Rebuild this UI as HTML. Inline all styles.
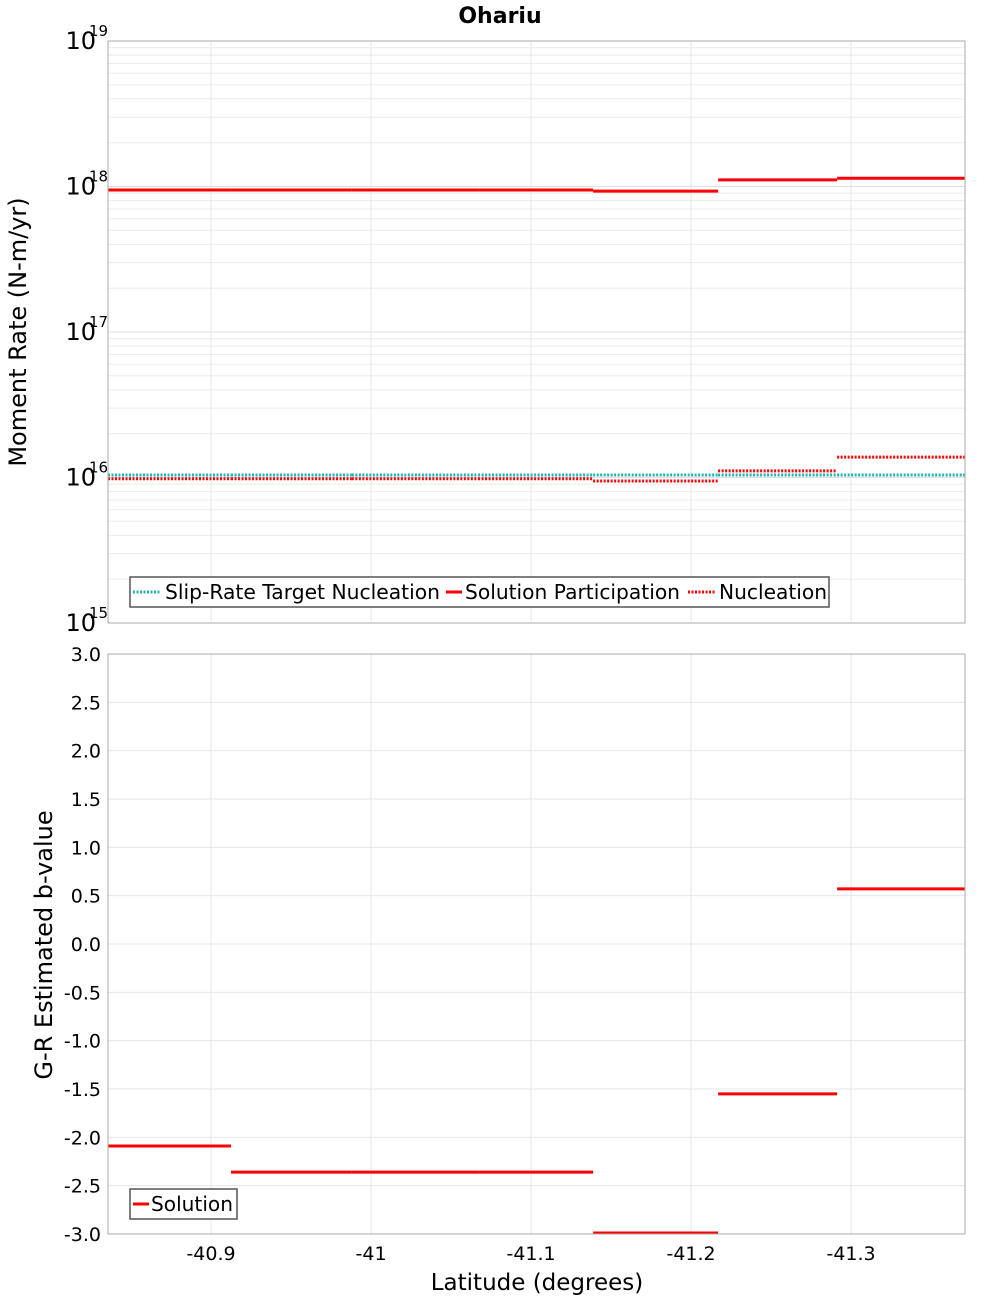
<!DOCTYPE html>
<html><head><meta charset="utf-8"><style>
body{margin:0;background:#fff}
svg{font-family:"DejaVu Sans","Liberation Sans",sans-serif}
</style></head><body>
<svg id="c" width="1000" height="1300" xmlns="http://www.w3.org/2000/svg"></svg>
<script>
const segEdges=[-40.8356,-40.9125,-40.988,-41.0669,-41.1388,-41.2169,-41.2913,-41.3712];
const targetNucl=[1.04e16,1.04e16,1.04e16,1.04e16,1.04e16,1.04e16,1.04e16];
const solPart=[9.46e17,9.46e17,9.46e17,9.46e17,9.3e17,1.11e18,1.14e18];
const nucl=[9.8e15,9.8e15,9.8e15,9.8e15,9.46e15,1.11e16,1.38e16];
const bValues=[-2.09,-2.36,-2.36,-2.36,-3.0,-1.55,0.57];
const xTicks=[-40.9,-41,-41.1,-41.2,-41.3];
const xTickLabels=["-40.9","-41","-41.1","-41.2","-41.3"];
const bTicks=[3,2.5,2,1.5,1,0.5,0,-0.5,-1,-1.5,-2,-2.5,-3];
const logTicks=[15,16,17,18,19];

const svg=document.getElementById('c');const NS="http://www.w3.org/2000/svg";
function el(t,a,name,parent){const e=document.createElementNS(NS,t);for(const k in a)e.setAttribute(k,a[k]);


(parent||svg).appendChild(e);return e;}
const L=108,R=965,T1=41,B1=623,T2=654,B2=1234;
const x=v=>L+(v-segEdges[0])/(segEdges[segEdges.length-1]-segEdges[0])*(R-L);
const y1=v=>B1-(Math.log10(v)-15)/4*(B1-T1);
const y2=v=>B2-(v+3)/6*(B2-T2);
el('text',{x:500,y:23,'text-anchor':'middle','font-size':22,'font-weight':'bold'},'chart-title').textContent='Ohariu';
for(let d=15;d<19;d++)for(let m=2;m<10;m++){const yy=y1(m*Math.pow(10,d));el('line',{x1:L,x2:R,y1:yy,y2:yy,stroke:'#ebebeb'},'top-minor-gridline');}
logTicks.forEach(d=>{const yy=y1(Math.pow(10,d));el('line',{x1:L,x2:R,y1:yy,y2:yy,stroke:'#e0e0e0'},'top-major-gridline');
const t=el('text',{x:96,y:yy+8,'text-anchor':'end','font-size':24},'top-y-tick-label');t.textContent='10';
const s=el('text',{x:89,y:yy-5,'font-size':15},'top-y-tick-exponent');s.textContent=String(d);});
xTicks.forEach(v=>{el('line',{x1:x(v),x2:x(v),y1:T1,y2:B1,stroke:'#e6e6e6'},'top-x-gridline');el('line',{x1:x(v),x2:x(v),y1:T2,y2:B2,stroke:'#e6e6e6'},'bottom-x-gridline');});
bTicks.forEach(v=>{const yy=y2(v);el('line',{x1:L,x2:R,y1:yy,y2:yy,stroke:'#e6e6e6'},'bottom-y-gridline');
el('text',{x:101,y:yy+7,'text-anchor':'end','font-size':19},'bottom-y-tick-label').textContent=v.toFixed(1);});
xTicks.forEach((v,i)=>{el('text',{x:x(v),y:1260,'text-anchor':'middle','font-size':19},'x-tick-label').textContent=xTickLabels[i];});
function steps(arr,yf,stroke,dash,name){for(let i=0;i<arr.length;i++){const a={x1:x(segEdges[i]),x2:x(segEdges[i+1]),y1:yf(arr[i]),y2:yf(arr[i]),stroke:stroke,'stroke-width':3};if(dash)a['stroke-dasharray']=dash;el('line',a,name);}}
steps(targetNucl,y1,'#1fb5b5','2,1.5','target-nucleation-segment');
steps(nucl,y1,'#ff0000','2,1.5','nucleation-segment');
steps(solPart,y1,'#ff0000',null,'solution-participation-segment');
steps(bValues,v=>Math.max(T2+1,Math.min(B2-1,y2(v))),'#ff0000',null,'b-value-segment');
el('rect',{x:L,y:T1,width:R-L,height:B1-T1,fill:'none',stroke:'#aaa'},'top-plot-frame');
el('rect',{x:L,y:T2,width:R-L,height:B2-T2,fill:'none',stroke:'#aaa'},'bottom-plot-frame');
el('text',{x:26,y:332,'text-anchor':'middle','font-size':24,transform:'rotate(-90 26 332)'},'top-y-axis-title').textContent='Moment Rate (N-m/yr)';
el('text',{x:52,y:945,'text-anchor':'middle','font-size':24,transform:'rotate(-90 52 945)'},'bottom-y-axis-title').textContent='G-R Estimated b-value';
el('text',{x:537,y:1290,'text-anchor':'middle','font-size':23},'x-axis-title').textContent='Latitude (degrees)';
const lg=el('g',{},'top-legend');
el('rect',{x:130,y:577,width:699,height:30,fill:'#fff',stroke:'#555','stroke-width':1.5},'top-legend-box',lg);
const items=[['Slip-Rate Target Nucleation','#1fb5b5','2,1.5',133,161,165],['Solution Participation','#ff0000',null,446,462,465],['Nucleation','#ff0000','2,1.5',688,716,719]];
items.forEach(it=>{const a={x1:it[3],x2:it[4],y1:592,y2:592,stroke:it[1],'stroke-width':3};if(it[2])a['stroke-dasharray']=it[2];el('line',a,'legend-swatch',lg);
el('text',{x:it[5],y:599,'font-size':20,textLength:(it[5]===165?275:it[5]===465?215:108),lengthAdjust:'spacingAndGlyphs'},'legend-entry',lg).textContent=it[0];});
const lg2=el('g',{},'bottom-legend');
el('rect',{x:130,y:1189,width:107,height:30,fill:'#fff',stroke:'#555','stroke-width':1.5},'bottom-legend-box',lg2);
el('line',{x1:133,x2:149,y1:1204,y2:1204,stroke:'#ff0000','stroke-width':3},'legend-swatch',lg2);
el('text',{x:151,y:1211,'font-size':20,textLength:82,lengthAdjust:'spacingAndGlyphs'},'legend-entry',lg2).textContent='Solution';
</script>
</body></html>
